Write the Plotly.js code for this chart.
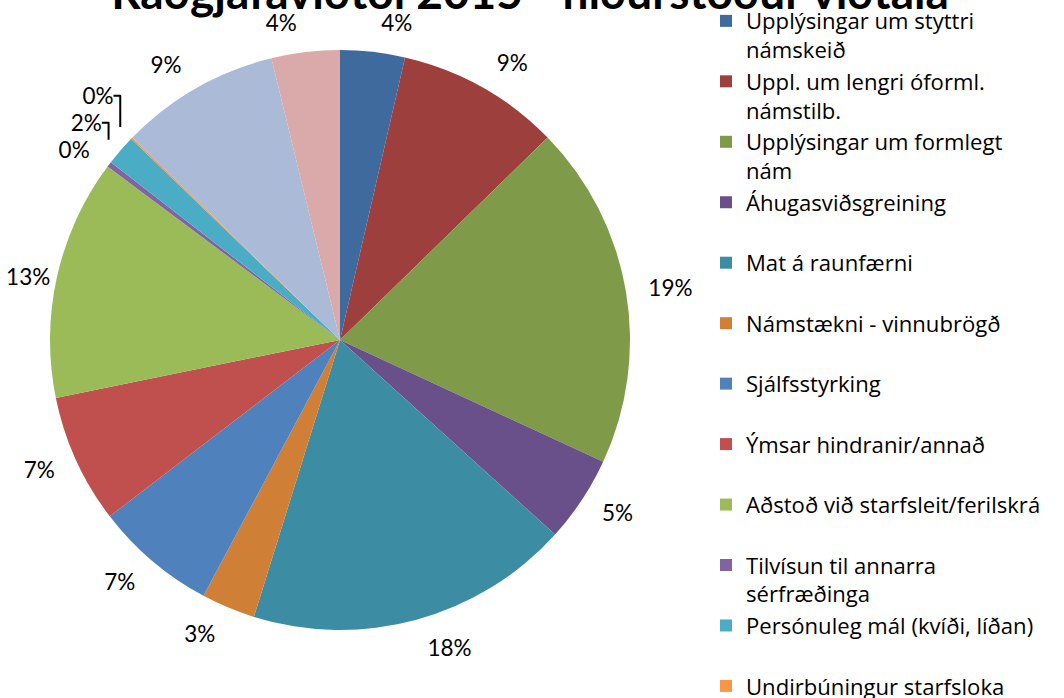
<!DOCTYPE html>
<html>
<head>
<meta charset="utf-8">
<script src="https://cdn.plot.ly/plotly-3.0.1.min.js"></script>
<style>html,body{margin:0;padding:0;background:#fff;}#chart{width:1064px;height:698px;}</style>
</head>
<body>
<div id="chart"></div>
<script>
// Data (percent shares)
const categories = [
  'Upplýsingar um styttri<br>námskeið',
  'Uppl. um lengri óforml.<br>námstilb.',
  'Upplýsingar um formlegt<br>nám',
  'Áhugasviðsgreining',
  'Mat á raunfærni',
  'Námstækni - vinnubrögð',
  'Sjálfsstyrking',
  'Ýmsar hindranir/annað',
  'Aðstoð við starfsleit/ferilskrá',
  'Tilvísun til annarra<br>sérfræðinga',
  'Persónuleg mál (kvíði, líðan)',
  'Undirbúningur starfsloka',
  'Annað 1',
  'Annað 2'
];
const shares = [3.6, 9.1, 19.2, 4.8, 18.1, 3.0, 6.8, 7.2, 13.4, 0.3, 1.7, 0.1, 8.9, 3.8];
const sliceColors = ['#3F6A9D', '#9D3F3D', '#7F9A48', '#69508A', '#3C8DA4', '#D08036',
                     '#4F81BD', '#C0504D', '#9BBB59', '#8064A2', '#4BACC6', '#F79646',
                     '#AABAD7', '#D9AAA9'];
const titleText = 'Ráðgjafaviðtöl 2015 - niðurstöður viðtala';

// legend entries all two lines tall (Excel spaces them evenly)
const legendLabels = categories.map(c => c.indexOf('<br>') >= 0 ? c : c + '<br> ');

const W = 1064, H = 698;
const cx = 340, cy = 340, r = 290, rl = 306;
// label of slice 9 (index 8) sits close to the pie edge in the reference
const nearIdx = 8;

const pie = {
  type: 'pie',
  labels: legendLabels,
  values: shares,
  sort: false,
  direction: 'clockwise',
  rotation: 0,
  marker: {colors: sliceColors, line: {width: 0}},
  textposition: shares.map((v, i) => i === nearIdx ? 'outside' : 'none'),
  texttemplate: '%{percent:.0%}',
  outsidetextfont: {family: 'Lato, sans-serif', size: 22.5, color: '#000'},
  hoverinfo: 'skip',
  domain: {x: [(cx - r) / W, (cx + r) / W], y: [1 - (cy + r) / H, 1 - (cy - r) / H]},
  showlegend: true
};
const labelRing = {
  type: 'pie',
  labels: legendLabels,
  values: shares,
  sort: false,
  direction: 'clockwise',
  rotation: 0,
  marker: {colors: shares.map(() => 'rgba(0,0,0,0)'), line: {width: 0}},
  textposition: shares.map((v, i) => i === nearIdx ? 'none' : 'outside'),
  texttemplate: '%{percent:.0%}',
  outsidetextfont: {family: 'Lato, sans-serif', size: 22.5, color: '#000'},
  hoverinfo: 'skip',
  domain: {x: [(cx - rl) / W, (cx + rl) / W], y: [1 - (cy + rl) / H, 1 - (cy - rl) / H]},
  showlegend: false
};

const layout = {
  width: W, height: H,
  margin: {l: 0, r: 0, t: 0, b: 0},
  paper_bgcolor: '#fff',
  font: {family: 'Lato, sans-serif', color: '#000'},
  title: {
    text: titleText,
    font: {family: 'Lato, sans-serif', size: 46, weight: 'bold', color: '#000'},
    x: 530 / W, xanchor: 'center', xref: 'paper',
    y: 1 - 9 / H, yref: 'container', yanchor: 'bottom'
  },
  showlegend: true,
  legend: {
    x: 706 / W, xanchor: 'left', y: 1, yanchor: 'top',
    valign: 'top', traceorder: 'normal',
    bgcolor: 'rgba(0,0,0,0)', borderwidth: 0,
    font: {family: '"Open Sans", sans-serif', size: 22.1, color: '#000'}
  }
};

Plotly.newPlot('chart', [pie, labelRing], layout, {staticPlot: true, displayModeBar: false});
</script>
</body>
</html>
